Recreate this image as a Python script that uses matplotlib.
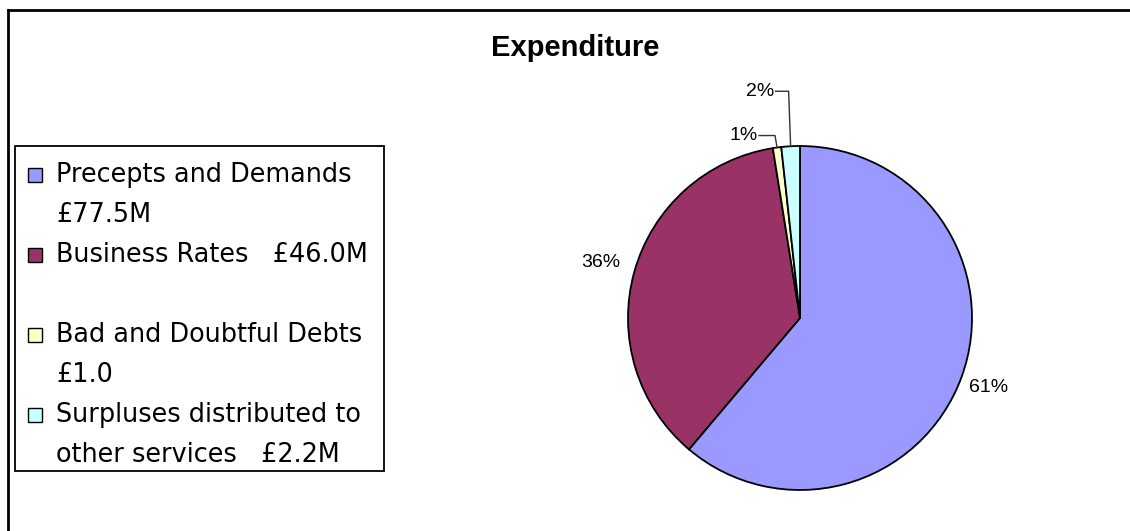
import numpy as np
import matplotlib.pyplot as plt
from matplotlib.patches import Rectangle
from matplotlib.lines import Line2D

# chart data
categories = ["Precepts and Demands\n£77.5M",
              "Business Rates   £46.0M\n",
              "Bad and Doubtful Debts\n£1.0",
              "Surpluses distributed to\nother services   £2.2M"]
values = [77.5, 46.0, 1.0, 2.2]
pct_labels = ["61%", "36%", "1%", "2%"]
colors = ["#9999ff", "#993366", "#ffffcc", "#ccffff"]

W, H = 1130, 531
fig = plt.figure(figsize=(W / 100, H / 100), dpi=100)


def px(x, y):
    # pixel (from top-left) -> figure fraction
    return x / W, 1 - y / H


# pie axes, centre (800, 318) px, radius 172 px
cx, cy, r_px, half = 800, 318, 172, 200
ax = fig.add_axes([(cx - half) / W, (H - cy - half) / H, 2 * half / W, 2 * half / H])
wedges, _ = ax.pie(values, colors=colors, startangle=90, counterclock=False,
                   wedgeprops=dict(edgecolor="black", linewidth=1.3))
lim = half / r_px
ax.set_xlim(-lim, lim)
ax.set_ylim(-lim, lim)
ax.axis("off")

lab_font = dict(family="Liberation Sans", fontsize=14, color="black")
for i, w in enumerate(wedges):
    mid = np.deg2rad((w.theta1 + w.theta2) / 2)
    ex, ey = np.cos(mid), np.sin(mid)
    if values[i] / sum(values) > 0.05:
        d = 1.17 if i == 0 else 1.2
        ax.text(d * ex, d * ey, pct_labels[i], ha="center", va="center",
                clip_on=False, **lab_font)
    else:
        # small slices: label above with leader line
        up = 12 if i == 2 else 55
        left = 19 if i == 2 else 16
        tx = ex - left / r_px
        ty = ey + up / r_px
        ax.text(tx, ty, pct_labels[i], ha="right", va="center", clip_on=False, **lab_font)
        ax.add_line(Line2D([tx + 1 / r_px, ex - 2 / r_px, ex], [ty, ty, ey],
                           color="#333333", lw=1.0, clip_on=False))

fig.text(*px(575, 48), "Expenditure", ha="center", va="center",
         family="Liberation Sans", fontweight="bold", fontsize=21)

# outer frame (left and top edges visible)
fig.add_artist(Line2D([8 / W, 8 / W], [0, 1 - 10 / H], transform=fig.transFigure,
                      color="black", lw=2))
fig.add_artist(Line2D([8 / W, 1], [1 - 10 / H, 1 - 10 / H], transform=fig.transFigure,
                      color="black", lw=2))

# legend box
lx0, ly0, lx1, ly1 = 15, 146, 384, 471
fig.add_artist(Rectangle(px(lx0, ly1), (lx1 - lx0) / W, (ly1 - ly0) / H,
                         transform=fig.transFigure, facecolor="white",
                         edgecolor="black", lw=1.3))
line_h = 40
y = 175
for lab, col in zip(categories, colors):
    lines = lab.split("\n")
    fig.add_artist(Rectangle(px(28, y + 7), 14 / W, 14 / H, transform=fig.transFigure,
                             facecolor=col, edgecolor="black", lw=1.0))
    for ln in lines:
        fig.text(*px(56, y), ln, ha="left", va="center",
                 family="DejaVu Sans", fontsize=18.4)
        y += line_h

fig.savefig("out.png", dpi=100)
